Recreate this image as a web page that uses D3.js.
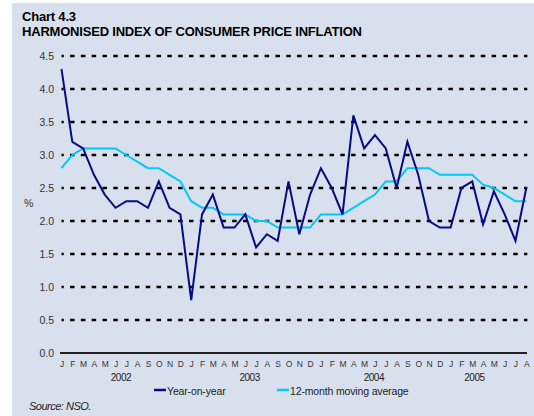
<!DOCTYPE html>
<html>
<head>
<meta charset="utf-8">
<script src="https://cdn.jsdelivr.net/npm/d3@7"></script>
<style>
    body { margin: 0; background: #fff; }
    svg { display: block; font-family: "Liberation Sans", Arial, sans-serif; }
</style>
</head>
<body>
<div id="chart"></div>
<script>
// data, Jan 2002 .. Aug 2005
var month_letters = ["J","F","M","A","M","J","J","A","S","O","N","D"];
var years = ["2002", "2003", "2004", "2005"];
// month index (from Jan 2002) under which each year label sits
var year_label_at = [5.5, 17.4, 28.9, 38.2];
var y_ticks = [0, 0.5, 1.0, 1.5, 2.0, 2.5, 3.0, 3.5, 4.0, 4.5];

var year_on_year = [
    4.3, 3.2, 3.1, 2.7, 2.4, 2.2, 2.3, 2.3, 2.2, 2.6, 2.2, 2.1,
    0.8, 2.1, 2.4, 1.9, 1.9, 2.1, 1.6, 1.8, 1.7, 2.6, 1.8, 2.4,
    2.8, 2.5, 2.1, 3.6, 3.1, 3.3, 3.1, 2.5, 3.2, 2.7, 2.0, 1.9,
    1.9, 2.5, 2.6, 1.95, 2.45, 2.1, 1.7, 2.5
];
var moving_average = [
    2.8, 3.0, 3.1, 3.1, 3.1, 3.1, 3.0, 2.9, 2.8, 2.8, 2.7, 2.6,
    2.3, 2.2, 2.2, 2.1, 2.1, 2.1, 2.0, 2.0, 1.9, 1.9, 1.9, 1.9,
    2.1, 2.1, 2.1, 2.2, 2.3, 2.4, 2.6, 2.6, 2.8, 2.8, 2.8, 2.7,
    2.7, 2.7, 2.7, 2.55, 2.5, 2.4, 2.3, 2.3
];

var width = 534, height = 416,
    navy = '#0a0a84', cyan = '#00c8f8', bg = '#d9e0ed';

var svg = d3.select('#chart').append('svg')
    .attr('width', width)
    .attr('height', height);

svg.append('rect')
    .attr('x', 12).attr('y', 3)
    .attr('width', width - 12).attr('height', height - 3)
    .attr('fill', bg);

// titles
svg.append('text')
    .attr('x', 22).attr('y', 21)
    .style('font-size', '13px').style('font-weight', 'bold')
    .style('letter-spacing', '-0.2px')
    .text('Chart 4.3');
svg.append('text')
    .attr('x', 22).attr('y', 36)
    .style('font-size', '13px').style('font-weight', 'bold')
    .style('letter-spacing', '-0.2px')
    .text('HARMONISED INDEX OF CONSUMER PRICE INFLATION');

var n = year_on_year.length;
var x = d3.scaleLinear().domain([0, n - 1]).range([61.5, 526.3]),
    y = d3.scaleLinear().domain([0, 4.5]).range([353, 56]);
var step = x(1) - x(0), dash = 4.5;

// dashed gridlines, one dash per month
svg.append('g').selectAll('line')
    .data(y_ticks.filter(function(d) { return d > 0; }))
    .enter().append('line')
    .attr('x1', x(0)).attr('x2', x(n - 1) + 1)
    .attr('y1', function(d) { return y(d); })
    .attr('y2', function(d) { return y(d); })
    .attr('stroke', '#000')
    .attr('stroke-width', 2.5)
    .attr('stroke-dasharray', dash + ',' + (step - dash))
    .attr('stroke-dashoffset', dash / 2);

// y axis labels
var y_axis = svg.append('g')
    .attr('transform', 'translate(61,0)')
    .call(d3.axisLeft(y).tickValues(y_ticks).tickSize(0).tickPadding(7)
          .tickFormat(d3.format('.1f')));
y_axis.select('.domain').remove();
y_axis.selectAll('text')
    .style('font-family', '"Liberation Sans", Arial, sans-serif')
    .style('font-size', '10.5px')
    .attr('fill', '#333');

svg.append('text')
    .attr('x', 24).attr('y', 207)
    .style('font-size', '10.5px').attr('fill', '#333')
    .text('%');

// x axis with month letters
var x_axis = svg.append('g')
    .attr('transform', 'translate(0,353)')
    .call(d3.axisBottom(x).tickValues(d3.range(n)).tickSize(0).tickPadding(8)
          .tickFormat(function(i) { return month_letters[i % 12]; }));
x_axis.select('.domain')
    .attr('d', 'M60,0H527')
    .attr('stroke', '#222')
    .attr('stroke-width', 1.8);
x_axis.selectAll('text')
    .style('font-family', '"Liberation Sans", Arial, sans-serif')
    .style('font-size', '8.5px')
    .attr('fill', '#333');

svg.append('g').selectAll('text')
    .data(years)
    .enter().append('text')
    .attr('x', function(d, i) { return x(year_label_at[i]); })
    .attr('y', 381)
    .attr('text-anchor', 'middle')
    .style('font-size', '10px')
    .style('letter-spacing', '-0.5px')
    .attr('fill', '#222')
    .text(function(d) { return d; });

// series
var line = d3.line()
    .x(function(d, i) { return x(i); })
    .y(function(d) { return y(d); });

svg.append('path')
    .datum(moving_average)
    .attr('d', line)
    .attr('fill', 'none')
    .attr('stroke', cyan)
    .attr('stroke-width', 2);

svg.append('path')
    .datum(year_on_year)
    .attr('d', line)
    .attr('fill', 'none')
    .attr('stroke', navy)
    .attr('stroke-width', 2);

// legend
var legend = [
    { label: 'Year-on-year', color: navy, x: 154 },
    { label: '12-month moving average', color: cyan, x: 277 }
];
var lg = svg.append('g').selectAll('g')
    .data(legend)
    .enter().append('g')
    .attr('transform', function(d) { return 'translate(' + d.x + ',390)'; });
lg.append('line')
    .attr('x1', 0).attr('x2', 12)
    .attr('stroke', function(d) { return d.color; })
    .attr('stroke-width', 2.5);
lg.append('text')
    .attr('x', 13).attr('y', 5)
    .style('font-size', '10.5px')
    .style('letter-spacing', '-0.15px')
    .attr('fill', '#222')
    .text(function(d) { return d.label; });

svg.append('text')
    .attr('x', 29).attr('y', 410)
    .style('font-size', '11px').style('font-style', 'italic')
    .style('letter-spacing', '-0.5px')
    .attr('fill', '#222')
    .text('Source: NSO.');
</script>
</body>
</html>
